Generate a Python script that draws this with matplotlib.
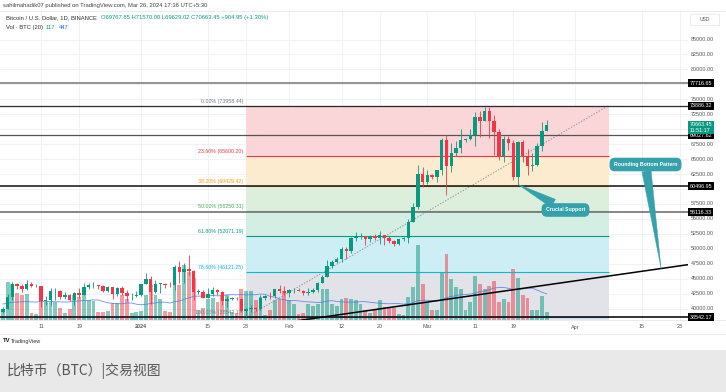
import matplotlib
matplotlib.use("Agg")
import matplotlib.pyplot as plt
import matplotlib.dates as mdates
import matplotlib.transforms as mtransforms
from matplotlib.patches import Rectangle
import pandas as pd

plt.rcParams["font.family"] = ["Liberation Sans", "DejaVu Sans"]

W, H = 726, 392

# ---- daily candles, BTC/USD (Binance), 3 Dec 2023 .. 26 Mar 2024 ----
dates = pd.date_range("2023-12-03", "2024-03-26", freq="D")
opens = [39450, 39970, 41990, 44080, 43770, 43290, 44170, 43720, 43790, 41240,
         41480, 42890, 43020, 41940, 42260, 41370, 42660, 42270, 43650, 43870,
         43990, 43730, 43010, 43600, 42520, 43440, 42580, 42070, 42140,
         42280, 44180, 44950, 42850, 44150, 44160, 43970, 43930, 46970, 46120,
         46660, 46340, 42780, 42850, 41730, 42510, 43140, 42740, 41260, 41620,
         41660, 41580, 39570, 39880, 40080, 39930, 41810, 42120, 42030, 43300,
         42940,
         42580, 43080, 43190, 43010, 42580, 42700, 43090, 44340, 45290, 47130,
         47770, 48290, 49960, 49700, 51830, 51940, 52120, 51660, 52140, 51780,
         52260, 51850, 51300, 50730, 51570, 51730, 54480, 57040, 62430,
         61130, 62390, 62030, 63130, 68240, 63780, 66070, 66850, 68170, 68310,
         68960, 72100, 71450, 73070, 71390, 69500, 65300, 68390, 67610, 61940,
         67840, 65500, 63800, 64040, 67210, 69767.85]
highs = [40220, 42420, 44490, 44300, 44050, 44700, 44370, 44040, 43800, 42100,
         43430, 43400, 43090, 42720, 42440, 42760, 43500, 44280, 44240, 44400,
         44000, 43940, 43800, 43600, 43680, 43800, 43120, 42600, 42900,
         44180, 45880, 45500, 44730, 44340, 44230, 44500, 47250, 47900, 47700,
         48970, 46500, 43260, 43080, 43400, 43580, 43200, 42930, 42190, 41860,
         41880, 41690, 40130, 40550, 40290, 42210, 42200, 42840, 43300, 43880,
         43750,
         43280, 43420, 43380, 43120, 43490, 43400, 44380, 45600, 48200, 48170,
         48590, 50330, 50370, 52000, 52820, 52570, 52190, 52370, 52490, 52980,
         52370, 52060, 51550, 51680, 51950, 54940, 57590, 64000, 63680,
         63120, 62430, 63230, 68500, 69000, 67640, 67990, 69990, 68590, 69980,
         72800, 73000, 73650, 73780, 72420, 70040, 68860, 68920, 68120, 68100,
         68240, 66650, 65980, 67620, 71150, 71570.00]
lows = [39280, 39970, 41420, 43330, 42820, 43080, 43580, 43580, 40220, 40680,
        40550, 41420, 41660, 41680, 41250, 40530, 41800, 42210, 43300, 43430,
        43300, 42780, 42720, 41630, 42100, 42300, 41300, 41520, 41960,
        42180, 44150, 40750, 42630, 42630, 43430, 43580, 43180, 44300, 44300,
        45600, 41500, 42440, 41720, 41720, 42050, 42200, 40680, 40280, 41400,
        41500, 39430, 38550, 39490, 39550, 39820, 41400, 41620, 41800, 42680,
        42270,
        41880, 42580, 42880, 42220, 42260, 42580, 42780, 44330, 45240, 46800,
        47630, 47710, 48300, 49220, 51320, 51600, 50620, 51170, 51520, 50790,
        50630, 50920, 50520, 50580, 51280, 50900, 54450, 56690, 60360,
        60770, 61660, 61140, 62300, 59000, 62850, 65530, 66080, 67920, 68120,
        67190, 68620, 71330, 68560, 65630, 64780, 64560, 66600, 61500, 60780,
        64530, 62260, 63000, 63820, 66390, 69629.02]
closes = [39970, 41990, 44080, 43770, 43290, 44170, 43720, 43790, 41240, 41480,
          42890, 43020, 41940, 42260, 41370, 42660, 42270, 43650, 43870, 43990,
          43730, 43010, 43600, 42520, 43440, 42580, 42070, 42140, 42280,
          44180, 44950, 42850, 44150, 44160, 43970, 43930, 46970, 46120, 46660,
          46340, 42780, 42850, 41730, 42510, 43140, 42740, 41260, 41620, 41660,
          41580, 39570, 39880, 40080, 39930, 41810, 42120, 42030, 43300, 42940,
          42580,
          43080, 43190, 43010, 42580, 42700, 43090, 44340, 45290, 47130, 47770,
          48290, 49960, 49700, 51830, 51940, 52120, 51660, 52140, 51780, 52260,
          51850, 51300, 50730, 51570, 51730, 54480, 57040, 62430, 61130,
          62390, 62030, 63130, 68240, 63780, 66070, 66850, 68170, 68310, 68960,
          72100, 71450, 73070, 71390, 69500, 65300, 68390, 67610, 61940, 67840,
          65500, 63800, 64040, 67210, 69767.85, 70663.45]
# volume, thousand BTC
volumes = [15, 58, 55, 41, 38, 40, 10, 9, 50, 28, 27, 28, 19, 10, 17, 38, 36, 38,
           31, 29, 13, 13, 14, 26, 26, 38, 32, 10, 12,
           14, 38, 54, 38, 33, 14, 13, 79, 54, 85, 74, 64, 15, 18, 33, 34, 28, 38,
           38, 13, 10, 47, 45, 44, 30, 35, 8, 15, 30, 32, 45,
           30, 25, 9, 11, 25, 21, 25, 47, 47, 25, 22, 33, 34, 33, 30, 25, 15, 11,
           15, 31, 20, 19, 18, 9, 8, 35, 51, 116, 55,
           27, 15, 15, 74, 101, 63, 50, 47, 15, 27, 68, 56, 47, 52, 60, 27, 33,
           27, 78, 64, 38, 34, 16, 16, 37, 11.7]
# 19 sessions before 3 Dec, only used to seed the 20-day volume average
vol_before = [30, 28, 35, 32, 30, 22, 14, 25, 30, 38, 30, 24, 14, 12, 22, 24, 20, 30, 16]

# ---- drawings ----
fib_ratios = [0.0, 0.236, 0.382, 0.5, 0.618, 0.786, 1.0]
fib_high, fib_low = 73958.44, 38542.17
fib_from, fib_to = "2024-01-23", "2024-04-08"
fib_line_colors = ["#787b86", "#f23645", "#ff9800", "#4caf50", "#089981", "#00bcd4", "#787b86"]
fib_fill_colors = ["#fad6d8", "#fdebcf", "#dcefdc", "#d4eee4", "#cdeef4", "#e2e3e8"]

key_levels = [77716.65, 73886.32, 69027.62, 60496.95, 56116.33, 38542.17]
key_colors = ["#8a8a8a", "#2b2b2b", "#555555", "#222222", "#7c7c7c", "#111111"]
key_widths = [1.3, 0.9, 0.9, 1.2, 1.3, 1.2]

trend_dates = ["2024-02-03", "2024-04-25"]
trend_prices = [38000, 47390]

price_ticks = list(range(40000, 85001, 2500))
date_ticks = ["2023-12-11", "2023-12-19", "2024-01-01", "2024-01-15", "2024-01-23",
              "2024-02-01", "2024-02-12", "2024-02-20", "2024-03-01", "2024-03-11",
              "2024-03-19", "2024-04-01", "2024-04-15", "2024-04-23"]
date_labels = ["11", "19", "2024", "15", "23", "Feb", "12", "20", "Mar", "11",
               "19", "Apr", "15", "23"]

last_price, countdown = 70663.45, "11:51:17"
callouts = [("Crucial Support", "2024-03-20", 60780, (565.5, 210)),
            ("Rounding Bottom Pattern", "2024-04-19", 46700, (645.5, 164.5))]

UP, DOWN = "#089981", "#f23645"
TEAL = "#35a1ab"


def fx(x):
    return x / W


def fy(y):
    return 1 - y / H


fig = plt.figure(figsize=(W / 100, H / 100), dpi=100)
fig.patch.set_facecolor("white")

pane = [0, fy(320), fx(688), (320 - 11) / H]
bg = fig.add_axes(pane)
vax = fig.add_axes(pane, sharex=bg)
ax = fig.add_axes(pane, sharex=bg, sharey=bg)
bg.set_zorder(1)
vax.set_zorder(2)
ax.set_zorder(3)
for a in (bg, vax, ax):
    a.set_axis_off()
for a in (vax, ax):
    a.patch.set_visible(False)

x = mdates.date2num(dates)
d0 = mdates.date2num(pd.Timestamp("2023-12-11"))
ppd = 4.77  # pixels per day
bg.set_xlim(d0 - 41 / ppd, d0 + (688 - 41) / ppd)
bg.set_ylim(38094, 89766)
vax.set_ylim(0, 475)
px_per_price = (320 - 11) / (89766 - 38094)

# grid
for d in date_ticks:
    bg.axvline(mdates.date2num(pd.Timestamp(d)), color="#eef0f4", lw=0.6, zorder=0)
for p in price_ticks:
    bg.axhline(p, color="#eef0f4", lw=0.6, zorder=0)

# fib bands
f0 = mdates.date2num(pd.Timestamp(fib_from))
f1 = mdates.date2num(pd.Timestamp(fib_to))
fib_prices = [fib_high - r * (fib_high - fib_low) for r in fib_ratios]
for i in range(len(fib_prices) - 1):
    bg.fill_between([f0, f1], fib_prices[i], fib_prices[i + 1],
                    color=fib_fill_colors[i], lw=0, zorder=1)
bg.fill_between([bg.get_xlim()[0], f1], 38094, fib_low, color="#d9e7f7", lw=0, zorder=1)

# volume
vcol = [UP if c >= o else DOWN for o, c in zip(opens, closes)]
vax.bar(x, volumes, width=0.8, color=vcol, alpha=0.5, lw=0)
vol_ma = pd.Series(vol_before + volumes).rolling(20).mean().iloc[len(vol_before):]
vax.plot(x, vol_ma.values, color="#4f7be8", lw=0.6, alpha=0.85)

# fib lines and labels
for p, r, c in zip(fib_prices, fib_ratios, fib_line_colors):
    ax.hlines(p, f0, f1, color=c, lw=0.8, zorder=2)
    ax.annotate(f"{r * 100:.2f}% ({p:.2f})", xy=(f0, p), xytext=(-3, 2),
                textcoords="offset pixels", ha="right", va="bottom",
                fontsize=3.8, color=c, zorder=5)
ax.plot([f0, f1], [fib_low, fib_high], color="#9598a1", lw=0.7,
        ls=(0, (1.5, 1.5)), zorder=3)

# horizontal key levels
for p, c, lw in zip(key_levels, key_colors, key_widths):
    ax.axhline(p, color=c, lw=lw, zorder=3)

# rounding bottom trend line
ax.plot(mdates.date2num(pd.to_datetime(trend_dates)), trend_prices,
        color="black", lw=1.1, zorder=3.5)

# candles
for xi, o, h, l, c in zip(x, opens, highs, lows, closes):
    col = UP if c >= o else DOWN
    ax.vlines(xi, l, h, color=col, lw=0.6, zorder=4)
    ax.bar(xi, max(abs(c - o), 80), bottom=min(o, c), width=0.72,
           color=col, lw=0, zorder=4.5)

# price scale (labels hidden behind the level tags are skipped, as on the chart)
tr = mtransforms.blended_transform_factory(ax.transAxes, ax.transData)
covered = key_levels + [last_price - 2.3 / px_per_price]
for p in price_ticks:
    if min(abs(p - k) for k in covered) * px_per_price < 5:
        continue
    ax.text(1 + 3 / 688, p, f"{p:.2f}", transform=tr, ha="left", va="center",
            fontsize=3.9, color="#555555", clip_on=False, zorder=5)
for p in key_levels:
    ax.text(1 + 1.5 / 688, p, f"{p:.2f}", transform=tr, ha="left", va="center",
            fontsize=3.9, color="white", clip_on=False, zorder=6,
            bbox=dict(boxstyle="square,pad=0.3", fc="black", ec="none"))
ax.annotate(f"{last_price:.2f}\n{countdown}", xy=(1, last_price), xycoords=tr,
            xytext=(1.5, -2.3), textcoords="offset pixels", ha="left", va="center",
            fontsize=3.9, color="white", linespacing=1.05, zorder=7,
            bbox=dict(boxstyle="square,pad=0.3", fc=UP, ec="none"))

# time scale
ttr = mtransforms.blended_transform_factory(ax.transData, fig.transFigure)
for d, lab in zip(date_ticks, date_labels):
    ax.text(mdates.date2num(pd.Timestamp(d)), fy(327), lab, transform=ttr,
            ha="center", va="center", fontsize=3.9, color="#555555",
            fontweight="bold" if lab == "2024" else "normal", clip_on=False)

# callouts
for text, d, p, (bx, by) in callouts:
    ax.annotate(text, xy=(mdates.date2num(pd.Timestamp(d)), p),
                xytext=(bx, H - by), textcoords="figure pixels",
                ha="center", va="center", fontsize=3.7, fontweight="bold",
                color="white", zorder=8,
                bbox=dict(boxstyle="round,pad=0.7,rounding_size=0.9", fc=TEAL, ec=TEAL),
                arrowprops=dict(arrowstyle="wedge,tail_width=1.8,shrink_factor=0.5",
                                fc=TEAL, ec=TEAL, lw=0.3, shrinkA=0, shrinkB=0))

# frame lines
for yy in (11, 320, 334):
    fig.add_artist(plt.Line2D([0, fx(726)], [fy(yy), fy(yy)], color="#e6e8ee",
                              lw=0.6, transform=fig.transFigure))

# USD box
fig.add_artist(Rectangle((fx(690), fy(25)), 29 / W, 11 / H, transform=fig.transFigure,
                         fc="white", ec="#e0e3eb", lw=0.5))
fig.text(fx(704.5), fy(19.5), "USD", ha="center", va="center", fontsize=3.6,
         color="#555555")

# header
renderer = fig.canvas.get_renderer()
fig.text(fx(3), fy(5.5), "sahilmahadik07 published on TradingView.com, Mar 26, 2024 17:36 UTC+5:30",
         fontsize=4.2, color="#444444", va="center")


def run_text(y, parts, x0=6, size=4.2):
    xp = x0
    for s, c, gap in parts:
        t = fig.text(fx(xp), fy(y), s, fontsize=size, color=c, va="center")
        xp = t.get_window_extent(renderer).x1 + gap


run_text(17.5, [("Bitcoin / U.S. Dollar, 1D, BINANCE", "#333333", 4),
                ("O69767.85 H71570.00 L69629.02 C70663.45 +904.95 (+1.30%)", UP, 0)])
run_text(27.5, [("Vol · BTC (20)", "#333333", 3), ("117", UP, 3), ("447", "#2962ff", 0)])

# footer
fig.text(fx(3), fy(341), "TV", fontsize=4.2, fontweight="bold", color="#131722",
         va="center")
fig.text(fx(11), fy(341), "TradingView", fontsize=4.0, color="#333333", va="center")
fig.add_artist(Rectangle((0, 0), 1, fy(350), transform=fig.transFigure,
                         fc="#e9e9e9", ec="none"))
fig.text(fx(7), fy(371), "比特币（BTC）|交易视图", fontsize=10, color="#555555",
         va="center", family=["Noto Sans CJK SC", "DejaVu Sans"])

fig.savefig("out.png", dpi=100, facecolor="white")
